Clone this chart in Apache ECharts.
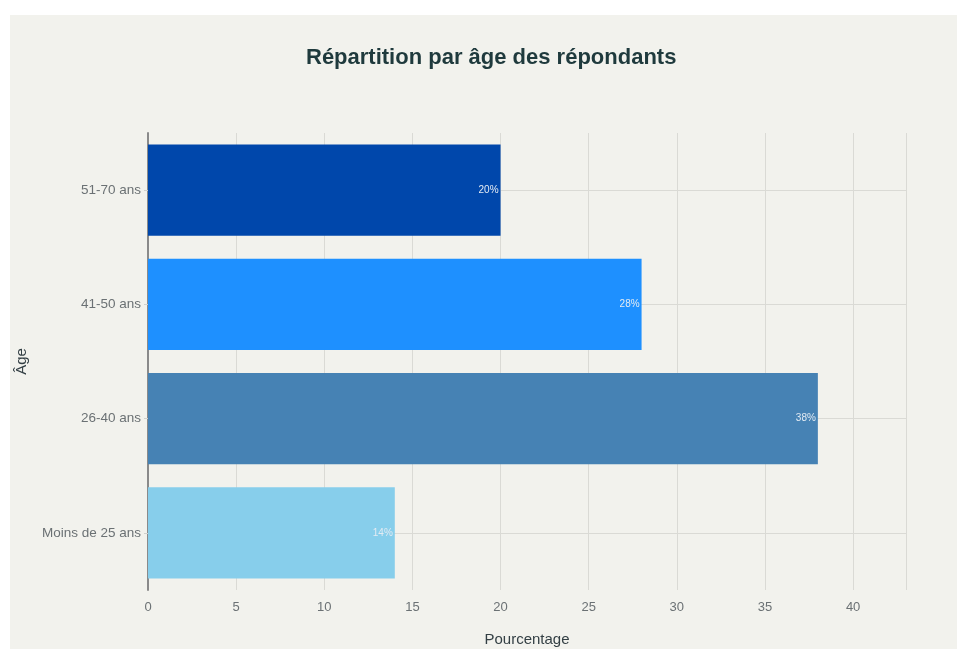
<!DOCTYPE html>
<html>
<head>
<meta charset="utf-8">
<script src="https://cdn.jsdelivr.net/npm/echarts@6/dist/echarts.min.js"></script>
<style>
html,body{margin:0;padding:0;background:#ffffff;}
#chart{position:absolute;left:10px;top:15px;width:947px;height:634px;}
</style>
</head>
<body>
<div id="chart"></div>
<script>
var categories = ["Moins de 25 ans", "26-40 ans", "41-50 ans", "51-70 ans"];
var values = [14, 38, 28, 20];
var colors = ["#87CEEB", "#4682B4", "#1E90FF", "#0047AB"];
var xTicks = [0, 5, 10, 15, 20, 25, 30, 35, 40];

var chart = echarts.init(document.getElementById('chart'));
var font = "'Liberation Sans', Arial, sans-serif";
chart.setOption({
  backgroundColor: '#f2f2ed',
  title: {
    text: 'Répartition par âge des répondants',
    left: 291,
    top: 27,
    textStyle: {fontFamily: font, fontSize: 22, fontWeight: 'bold', color: '#1f3a3d'}
  },
  grid: {left: 138, top: 118, right: 51, bottom: 59, outerBoundsMode: 'none', containLabel: false},
  xAxis: {
    type: 'value',
    min: 0, max: 43, interval: 5,
    name: 'Pourcentage',
    nameLocation: 'middle',
    nameGap: 42,
    nameTextStyle: {fontFamily: font, fontSize: 15, color: '#333f44'},
    axisLine: {show: false},
    axisTick: {show: false},
    axisLabel: {fontFamily: font, fontSize: 13, color: '#6b7174', margin: 11,
      formatter: function(v){ return xTicks.indexOf(v) >= 0 ? String(v) : ''; }},
    splitLine: {show: true, lineStyle: {color: '#dadad5', width: 1}}
  },
  yAxis: {
    type: 'category',
    data: categories,
    name: 'Âge',
    nameLocation: 'middle',
    nameGap: 119,
    nameRotate: 90,
    nameTextStyle: {fontFamily: font, fontSize: 15, color: '#333f44'},
    axisLine: {show: true, lineStyle: {color: '#8a8a8a', width: 2}},
    axisTick: {show: true, alignWithLabel: true, length: 4, lineStyle: {color: '#d0d0cc'}},
    axisLabel: {fontFamily: font, fontSize: 13.5, color: '#6b7174', margin: 7},
    splitLine: {show: true, alignWithLabel: true, lineStyle: {color: '#dadad5', width: 1}}
  },
  series: [{
    type: 'bar',
    data: values.map(function(v, i){ return {value: v, itemStyle: {color: colors[i]}}; }),
    barCategoryGap: '20%',
    label: {
      show: true,
      position: 'insideRight',
      distance: 2,
      formatter: function(p){ return p.value + '%'; },
      fontFamily: font,
      fontSize: 10,
      color: '#e3ebf3'
    },
    z: 3
  }]
});
</script>
</body>
</html>
